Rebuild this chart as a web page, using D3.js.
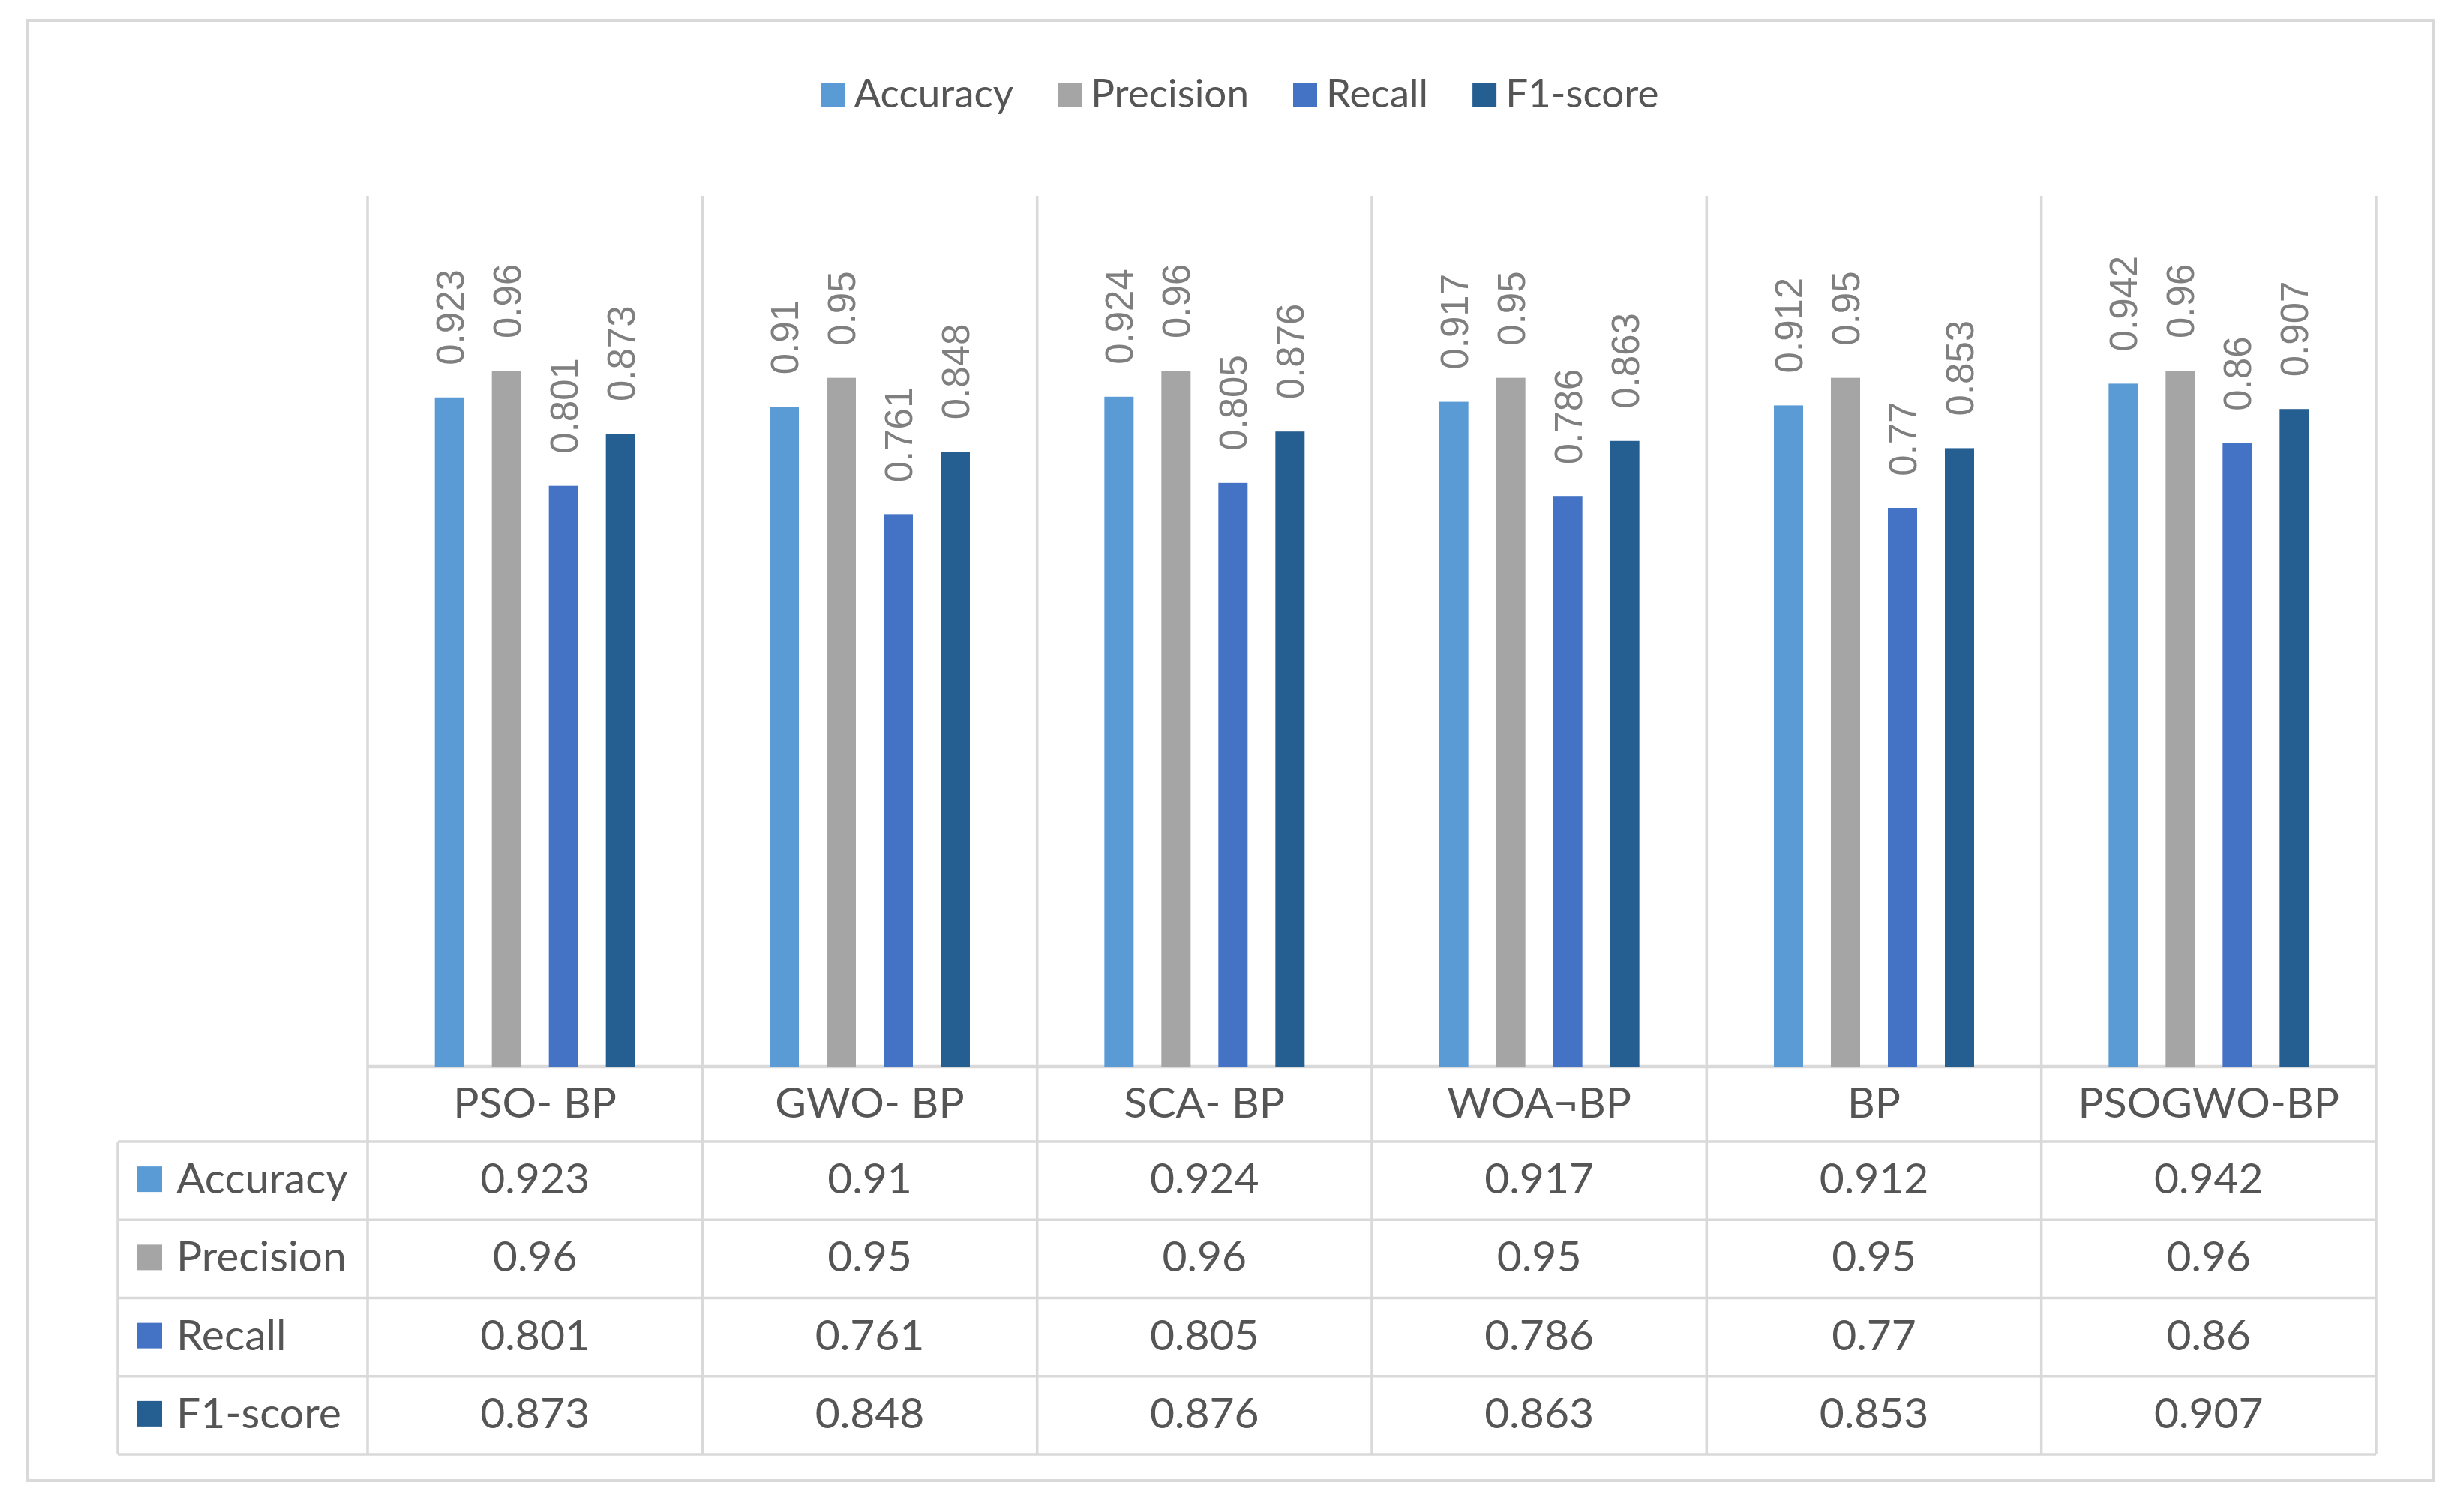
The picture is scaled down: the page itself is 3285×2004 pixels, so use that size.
<!DOCTYPE html>
<html>
<head>
<meta charset="utf-8">
<script src="https://cdn.jsdelivr.net/npm/d3@7"></script>
<style>
  body { margin: 0; background: #fff; }
  svg { display: block; }
</style>
</head>
<body>
<svg id="chart" width="3285" height="2004"></svg>
<script>
// ---- data ----
const categories = ["PSO- BP", "GWO- BP", "SCA- BP", "WOA\u00acBP", "BP", "PSOGWO-BP"];
const seriesNames = ["Accuracy", "Precision", "Recall", "F1-score"];
const accuracy  = [0.923, 0.91, 0.924, 0.917, 0.912, 0.942];
const precision = [0.96, 0.95, 0.96, 0.95, 0.95, 0.96];
const recall    = [0.801, 0.761, 0.805, 0.786, 0.77, 0.86];
const f1score   = [0.873, 0.848, 0.876, 0.863, 0.853, 0.907];
const seriesValues = [accuracy, precision, recall, f1score];
const colors = ["#5B9BD5", "#A5A5A5", "#4472C4", "#255E91"];

// ---- layout ----
const W = 3285, H = 2004;
const plotLeft = 490, plotRight = 3168, plotTop = 262, plotBottom = 1422;
const headerBottom = 1522, tableBottom = 1939, tableLeft = 157;
const gridColor = "#D9D9D9";
const textColor = "#555555";
const tableFont = "Lato, 'Open Sans', sans-serif";
const tableFontSize = 57;

const svg = d3.select("#chart");
svg.append("rect").attr("x", 0).attr("y", 0).attr("width", W).attr("height", H).attr("fill", "#fff");

// outer border
svg.append("rect").attr("x", 36).attr("y", 27).attr("width", 3245 - 36).attr("height", 1974 - 27)
  .attr("fill", "none").attr("stroke", gridColor).attr("stroke-width", 4);

const x0 = d3.scaleBand().domain(categories).range([plotLeft, plotRight]).paddingInner(0).paddingOuter(0);
const x1 = d3.scaleBand().domain(seriesNames).range([0, x0.bandwidth()]).paddingInner(0.487).paddingOuter(1.18);
const y = d3.scaleLinear().domain([0, 1.2]).range([plotBottom, plotTop]);
const rowY = d3.scaleBand().domain(seriesNames).range([headerBottom, tableBottom]);

// vertical gridlines / column separators
const edges = categories.map(c => x0(c)).concat([x0(categories[categories.length - 1]) + x0.bandwidth()]);
svg.append("g").selectAll("line").data(edges).join("line")
  .attr("x1", d => d).attr("x2", d => d)
  .attr("y1", plotTop).attr("y2", tableBottom)
  .attr("stroke", gridColor).attr("stroke-width", 3.5);

// left edge of table
svg.append("line").attr("x1", tableLeft).attr("x2", tableLeft).attr("y1", headerBottom).attr("y2", tableBottom)
  .attr("stroke", gridColor).attr("stroke-width", 3.5);

// axis line
svg.append("line").attr("x1", plotLeft).attr("x2", plotRight).attr("y1", plotBottom).attr("y2", plotBottom)
  .attr("stroke", gridColor).attr("stroke-width", 4.5);

// horizontal table lines
const hLines = seriesNames.map(s => rowY(s)).concat([tableBottom]);
svg.append("g").selectAll("line").data(hLines).join("line")
  .attr("x1", tableLeft).attr("x2", plotRight)
  .attr("y1", d => d).attr("y2", d => d)
  .attr("stroke", gridColor).attr("stroke-width", 3.5);

// bars
const barData = [];
categories.forEach((c, ci) => {
  seriesNames.forEach((s, si) => {
    barData.push({ cat: c, series: s, value: seriesValues[si][ci], color: colors[si] });
  });
});
svg.append("g").selectAll("rect").data(barData).join("rect")
  .attr("x", d => x0(d.cat) + x1(d.series))
  .attr("y", d => y(d.value))
  .attr("width", x1.bandwidth())
  .attr("height", d => plotBottom - y(d.value))
  .attr("fill", d => d.color);

// data labels (rotated)
svg.append("g").selectAll("text").data(barData).join("text")
  .attr("transform", d => `translate(${x0(d.cat) + x1(d.series) + x1.bandwidth() / 2},${y(d.value) - 43}) rotate(-90)`)
  .attr("dy", "0.36em")
  .attr("text-anchor", "start")
  .attr("font-family", "'Liberation Sans', Arial, sans-serif")
  .attr("font-size", 51)
  .attr("fill", "#7F7F7F")
  .text(d => String(d.value));

// category header row
const headerCenter = (plotBottom + headerBottom) / 2;
svg.append("g").selectAll("text").data(categories).join("text")
  .attr("x", d => x0(d) + x0.bandwidth() / 2)
  .attr("y", headerCenter + 17.5)
  .attr("text-anchor", "middle")
  .attr("font-family", tableFont)
  .attr("font-size", tableFontSize)
  .attr("fill", textColor)
  .text(d => d);

// table rows
seriesNames.forEach((s, si) => {
  const cy = rowY(s) + rowY.bandwidth() / 2;
  svg.append("rect").attr("x", 182).attr("y", cy - 19).attr("width", 34).attr("height", 34).attr("fill", colors[si]);
  svg.append("text").attr("x", 235).attr("y", cy + 17)
    .attr("font-family", tableFont).attr("font-size", tableFontSize).attr("fill", textColor).text(s);
  svg.append("g").selectAll("text").data(categories).join("text")
    .attr("x", d => x0(d) + x0.bandwidth() / 2)
    .attr("y", cy + 17)
    .attr("text-anchor", "middle")
    .attr("font-family", tableFont)
    .attr("font-size", tableFontSize)
    .attr("fill", textColor)
    .text((d, ci) => String(seriesValues[si][ci]));
});

// legend
const legend = svg.append("g");
const legendCenter = 1653, legendBaseline = 143, sw = 32, swGap = 12, itemGap = 59;
const items = seriesNames.map((s, i) => {
  const g = legend.append("g");
  g.append("rect").attr("width", sw).attr("height", sw).attr("y", 110).attr("fill", colors[i]);
  const t = g.append("text").attr("x", sw + swGap).attr("y", legendBaseline)
    .attr("font-family", tableFont).attr("font-size", 53).attr("fill", textColor).text(s);
  return { g, w: sw + swGap + t.node().getComputedTextLength() };
});
const totalW = d3.sum(items, d => d.w) + itemGap * (items.length - 1);
let cx = legendCenter - totalW / 2;
items.forEach(it => { it.g.attr("transform", `translate(${cx},0)`); cx += it.w + itemGap; });
</script>
</body>
</html>
